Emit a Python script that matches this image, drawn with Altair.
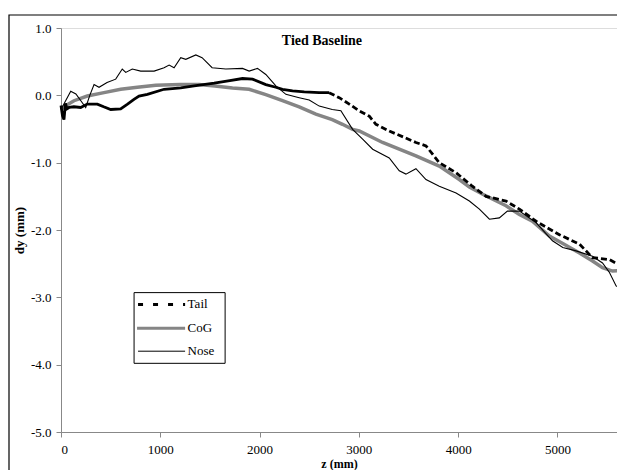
import altair as alt
import pandas as pd

# ---- data ----
tail_solid_z = [0, 15, 30, 45, 60, 81, 130, 198, 265, 366, 430, 501, 601, 670, 735, 786, 870,
                1038, 1206, 1341, 1543, 1700, 1828, 1929, 2063, 2164, 2231, 2332, 2450, 2600, 2700]
tail_solid_dy = [-0.15, -0.30, -0.36, -0.12, -0.20, -0.18, -0.17, -0.18, -0.13, -0.13, -0.17, -0.21,
                 -0.20, -0.13, -0.06, -0.01, 0.015, 0.09, 0.11, 0.14, 0.18, 0.22, 0.25, 0.24, 0.16,
                 0.12, 0.09, 0.065, 0.05, 0.04, 0.04]
tail_dash_z = [2700, 2802, 2903, 3004, 3105, 3172, 3306, 3450, 3575, 3676, 3810, 3979, 4143, 4281,
               4482, 4617, 4785, 5020, 5222, 5353, 5524, 5650]
tail_dash_dy = [0.04, -0.035, -0.13, -0.23, -0.31, -0.43, -0.53, -0.62, -0.70, -0.75, -1.00, -1.15,
                -1.35, -1.50, -1.57, -1.69, -1.87, -2.07, -2.21, -2.41, -2.44, -2.54]

cog_z = [0, 50, 131, 265, 433, 601, 769, 955, 1200, 1391, 1550, 1727, 1895, 2063, 2231, 2399, 2567,
         2732, 2835, 2937, 3004, 3239, 3575, 3810, 4012, 4113, 4248, 4482, 4617, 4748, 4919, 5054,
         5222, 5354, 5454, 5554, 5650]
cog_dy = [-0.21, -0.15, -0.08, -0.01, 0.04, 0.09, 0.12, 0.15, 0.16, 0.16, 0.14, 0.11, 0.09, 0.01,
          -0.08, -0.17, -0.28, -0.36, -0.43, -0.505, -0.53, -0.70, -0.90, -1.05, -1.25, -1.36, -1.47,
          -1.64, -1.77, -1.87, -2.09, -2.20, -2.34, -2.46, -2.56, -2.61, -2.60]

nose_z = [0, 40, 98, 150, 200, 249, 290, 333, 383, 464, 551, 617, 652, 718, 803, 938, 1038, 1089,
          1139, 1206, 1257, 1358, 1421, 1522, 1660, 1828, 1895, 1979, 2063, 2164, 2265, 2399, 2500,
          2601, 2732, 2819, 2937, 3038, 3139, 3306, 3407, 3474, 3575, 3676, 3810, 3979, 4113, 4214,
          4315, 4415, 4496, 4617, 4785, 4950, 5054, 5188, 5353, 5454, 5524, 5591, 5650]
nose_dy = [-0.21, -0.10, 0.06, 0.02, -0.08, -0.18, 0.0, 0.16, 0.12, 0.19, 0.24, 0.39, 0.34, 0.39,
           0.36, 0.36, 0.41, 0.45, 0.41, 0.56, 0.535, 0.60, 0.56, 0.41, 0.39, 0.40, 0.36, 0.40, 0.31,
           0.14, 0.015, -0.035, -0.07, -0.16, -0.21, -0.23, -0.505, -0.65, -0.80, -0.93, -1.12, -1.17,
           -1.09, -1.25, -1.35, -1.45, -1.57, -1.69, -1.84, -1.82, -1.72, -1.72, -1.89, -2.16, -2.26,
           -2.31, -2.39, -2.49, -2.63, -2.83, -2.88]

legend_labels = ["Tail", "CoG", "Nose"]
title_text = "Tied Baseline"
x_ticks = [0, 1000, 2000, 3000, 4000, 5000]
y_ticks = [1.0, 0.0, -1.0, -2.0, -3.0, -4.0, -5.0]

FONT = "Liberation Serif"

tail_solid = pd.DataFrame({"z": tail_solid_z, "dy": tail_solid_dy})
tail_dash = pd.DataFrame({"z": tail_dash_z, "dy": tail_dash_dy})
cog = pd.DataFrame({"z": cog_z, "dy": cog_dy})
nose = pd.DataFrame({"z": nose_z, "dy": nose_dy})

xs = alt.Scale(domain=[0, 5600], nice=False, zero=False)
ys = alt.Scale(domain=[-5, 1], nice=False, zero=False)

x_enc = alt.X("z:Q", scale=xs, title="z (mm)",
              axis=alt.Axis(values=x_ticks, format="d", grid=False, tickSize=5,
                            labelPadding=6, labelFontSize=13,
                            labelFont=FONT, titleFont=FONT, titleBaseline="top", titleY=26,
                            titleFontSize=12, titleFontWeight="bold"))
y_enc = alt.Y("dy:Q", scale=ys, title="dy (mm)",
              axis=alt.Axis(values=y_ticks, grid=False, tickSize=5,
                            labelExpr="replace(format(datum.value, '.1f'), '\u2212', '-')",
                            labelPadding=5, labelFontSize=13, labelFont=FONT, titleFont=FONT,
                            titleFontSize=13, titleFontWeight="bold", titleX=-35, titleY=202))

l_cog = alt.Chart(cog).mark_line(color="#858585", strokeWidth=3.5).encode(x=x_enc, y=y_enc, order="z:Q")
l_tail1 = alt.Chart(tail_solid).mark_line(color="black", strokeWidth=2.8).encode(x="z:Q", y="dy:Q", order="z:Q")
l_tail2 = alt.Chart(tail_dash).mark_line(color="black", strokeWidth=2.8, strokeDash=[6, 3]).encode(x="z:Q", y="dy:Q", order="z:Q")
l_nose = alt.Chart(nose).mark_line(color="black", strokeWidth=1.1).encode(x="z:Q", y="dy:Q", order="z:Q")

one = alt.Data(values=[{}])

title = alt.Chart(one).mark_text(text=title_text, font=FONT, fontSize=14, fontWeight="bold",
                                 align="center", baseline="alphabetic", color="black").encode(
    x=alt.datum(2628), y=alt.datum(0.75))

# legend box
leg_box = alt.Chart(one).mark_rect(fill="white", stroke="black", strokeWidth=1).encode(
    x=alt.datum(736), x2=alt.datum(1653), y=alt.datum(-2.93), y2=alt.datum(-3.98))
leg_tail = alt.Chart(one).mark_rule(color="black", strokeWidth=3, strokeDash=[5, 10]).encode(
    x=alt.datum(776), x2=alt.datum(1250), y=alt.datum(-3.105))
leg_cog = alt.Chart(one).mark_rule(color="#858585", strokeWidth=3).encode(
    x=alt.datum(766), x2=alt.datum(1250), y=alt.datum(-3.46))
leg_nose = alt.Chart(one).mark_rule(color="black", strokeWidth=1).encode(
    x=alt.datum(776), x2=alt.datum(1250), y=alt.datum(-3.80))
leg_text = alt.layer(*[
    alt.Chart(one).mark_text(text=lab, font=FONT, fontSize=13, align="left", baseline="middle",
                             color="black").encode(x=alt.datum(1275), y=alt.datum(yv))
    for lab, yv in zip(legend_labels, [-3.105, -3.46, -3.80])
])

frame = alt.Chart(one).mark_rect(fill=None, stroke="black", strokeWidth=1.2).encode(
    x=alt.value(-52), x2=alt.value(580), y=alt.value(-13), y2=alt.value(470))

chart = alt.layer(
    frame, l_cog, l_tail1, l_tail2, l_nose, title, leg_box, leg_tail, leg_cog, leg_nose, leg_text
).properties(
    width=556, height=404,
    autosize=alt.AutoSizeParams(type="none"),
    padding={"left": 53, "top": 20, "right": 0, "bottom": 38},
).configure_view(stroke=None).configure_axis(
    domainColor="black", tickColor="black", labelColor="black", titleColor="black",
    labelFont=FONT, titleFont=FONT, domainWidth=1, tickWidth=1
).configure(background="white")

chart.save("out.html", embed_options={"renderer": "svg", "actions": False})
